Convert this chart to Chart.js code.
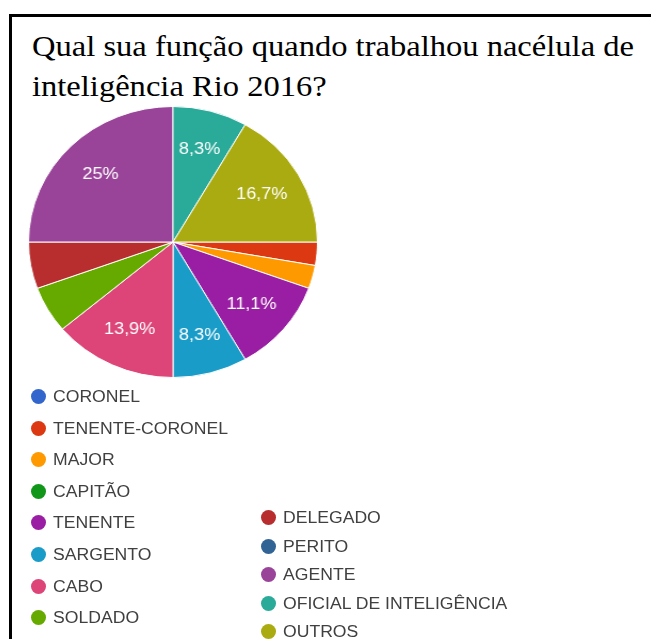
<!DOCTYPE html>
<html>
<head>
<meta charset="utf-8">
<script src="https://cdn.jsdelivr.net/npm/chart.js@4/dist/chart.umd.min.js"></script>
<style>
  body { margin: 0; background: #fff; width: 651px; height: 639px; overflow: hidden; position: relative; }
  .frame { position: absolute; left: 9px; top: 14px; right: -10px; bottom: -10px;
           border-top: 3px solid #000; border-left: 3px solid #000; }
  .title { position: absolute; left: 32px; font-family: "Liberation Serif", "Times New Roman", serif;
           font-size: 30px; line-height: 34px; color: #000; white-space: nowrap;
           transform: scaleX(1.085); transform-origin: 0 50%; }
  .pie-box { position: absolute; left: 37px; top: 106px; width: 272px; height: 272px;
             transform: scaleX(1.066); transform-origin: 50% 50%; filter: blur(0.5px); }
  .legend { position: absolute; left: 0; top: 0; filter: blur(0.5px); }
  .item { position: absolute; height: 20px; line-height: 20px; font-family: "Liberation Sans", Arial, sans-serif;
          font-size: 16px; color: #404040; white-space: nowrap; }
  .dot { position: absolute; left: 0; top: 2px; width: 15px; height: 15px; border-radius: 50%; }
  .txt { position: absolute; left: 22px; top: 0; display: inline-block; transform: scaleX(1.1); transform-origin: 0 50%; }
</style>
</head>
<body>
<div class="frame"></div>
<div class="title" style="top:29px">Qual sua função quando trabalhou nacélula de</div>
<div class="title" style="top:69px">inteligência Rio 2016?</div>
<div class="pie-box"><canvas id="myChart"></canvas></div>
<div class="legend" id="legend"></div>
<script>
// answers to the question, one count per function
const labels = ["CORONEL", "TENENTE-CORONEL", "MAJOR", "CAPITÃO", "TENENTE", "SARGENTO", "CABO",
  "SOLDADO", "DELEGADO", "PERITO", "AGENTE", "OFICIAL DE INTELIGÊNCIA", "OUTROS"];
const counts = [0, 1, 1, 0, 4, 3, 5, 2, 2, 0, 9, 3, 6];
const colors = ["#3366cc", "#dc3912", "#ff9900", "#109618", "#9a1ea3", "#1a9cc8", "#dd4477",
  "#66aa00", "#b82e2e", "#316395", "#994499", "#2aaa99", "#aaaa11"];

const total = counts.reduce((a, b) => a + b, 0);

// percentage text like the forms summary: "8,3%", "25%"
const pctText = (v) => {
  let p = (v / total * 100).toFixed(1);
  if (p.endsWith(".0")) p = p.slice(0, -2);
  return p.replace(".", ",") + "%";
};

// white percentage inside the bigger slices
const sliceLabels = {
  id: "sliceLabels",
  afterDatasetsDraw(chart) {
    const ctx = chart.ctx;
    const meta = chart.getDatasetMeta(0);
    ctx.save();
    ctx.font = "17px 'Liberation Sans', Arial, sans-serif";
    ctx.fillStyle = "#fff";
    ctx.textAlign = "center";
    ctx.textBaseline = "middle";
    meta.data.forEach((arc, i) => {
      if (counts[i] / total < 0.07) return;
      const mid = (arc.startAngle + arc.endAngle) / 2;
      const r = arc.outerRadius * 0.71;
      ctx.fillText(pctText(counts[i]), arc.x + Math.cos(mid) * r, arc.y + Math.sin(mid) * r);
    });
    ctx.restore();
  }
};

const ctx = document.getElementById("myChart").getContext("2d");
const myChart = new Chart(ctx, {
  type: "pie",
  data: {
    labels: labels,
    datasets: [{
      data: counts,
      backgroundColor: colors,
      borderColor: "#fff",
      borderWidth: 1
    }]
  },
  options: {
    responsive: true,
    maintainAspectRatio: false,
    animation: false,
    rotation: 90,
    layout: { padding: 0 },
    plugins: { legend: { display: false }, tooltip: { enabled: false } }
  },
  plugins: [sliceLabels]
});

// two column legend, second column sits at the bottom
const legend = document.getElementById("legend");
labels.forEach((name, i) => {
  const col = i < 8 ? 0 : 1;
  const row = col === 0 ? i : i - 8;
  const x = col === 0 ? 31 : 261;
  const y = col === 0 ? 387 + row * 31.6 : 508 + row * 28.6;
  const item = document.createElement("div");
  item.className = "item";
  item.style.left = x + "px";
  item.style.top = y + "px";
  item.innerHTML = '<span class="dot" style="background:' + colors[i] + '"></span><span class="txt">' + name + "</span>";
  legend.appendChild(item);
});
</script>
</body>
</html>
